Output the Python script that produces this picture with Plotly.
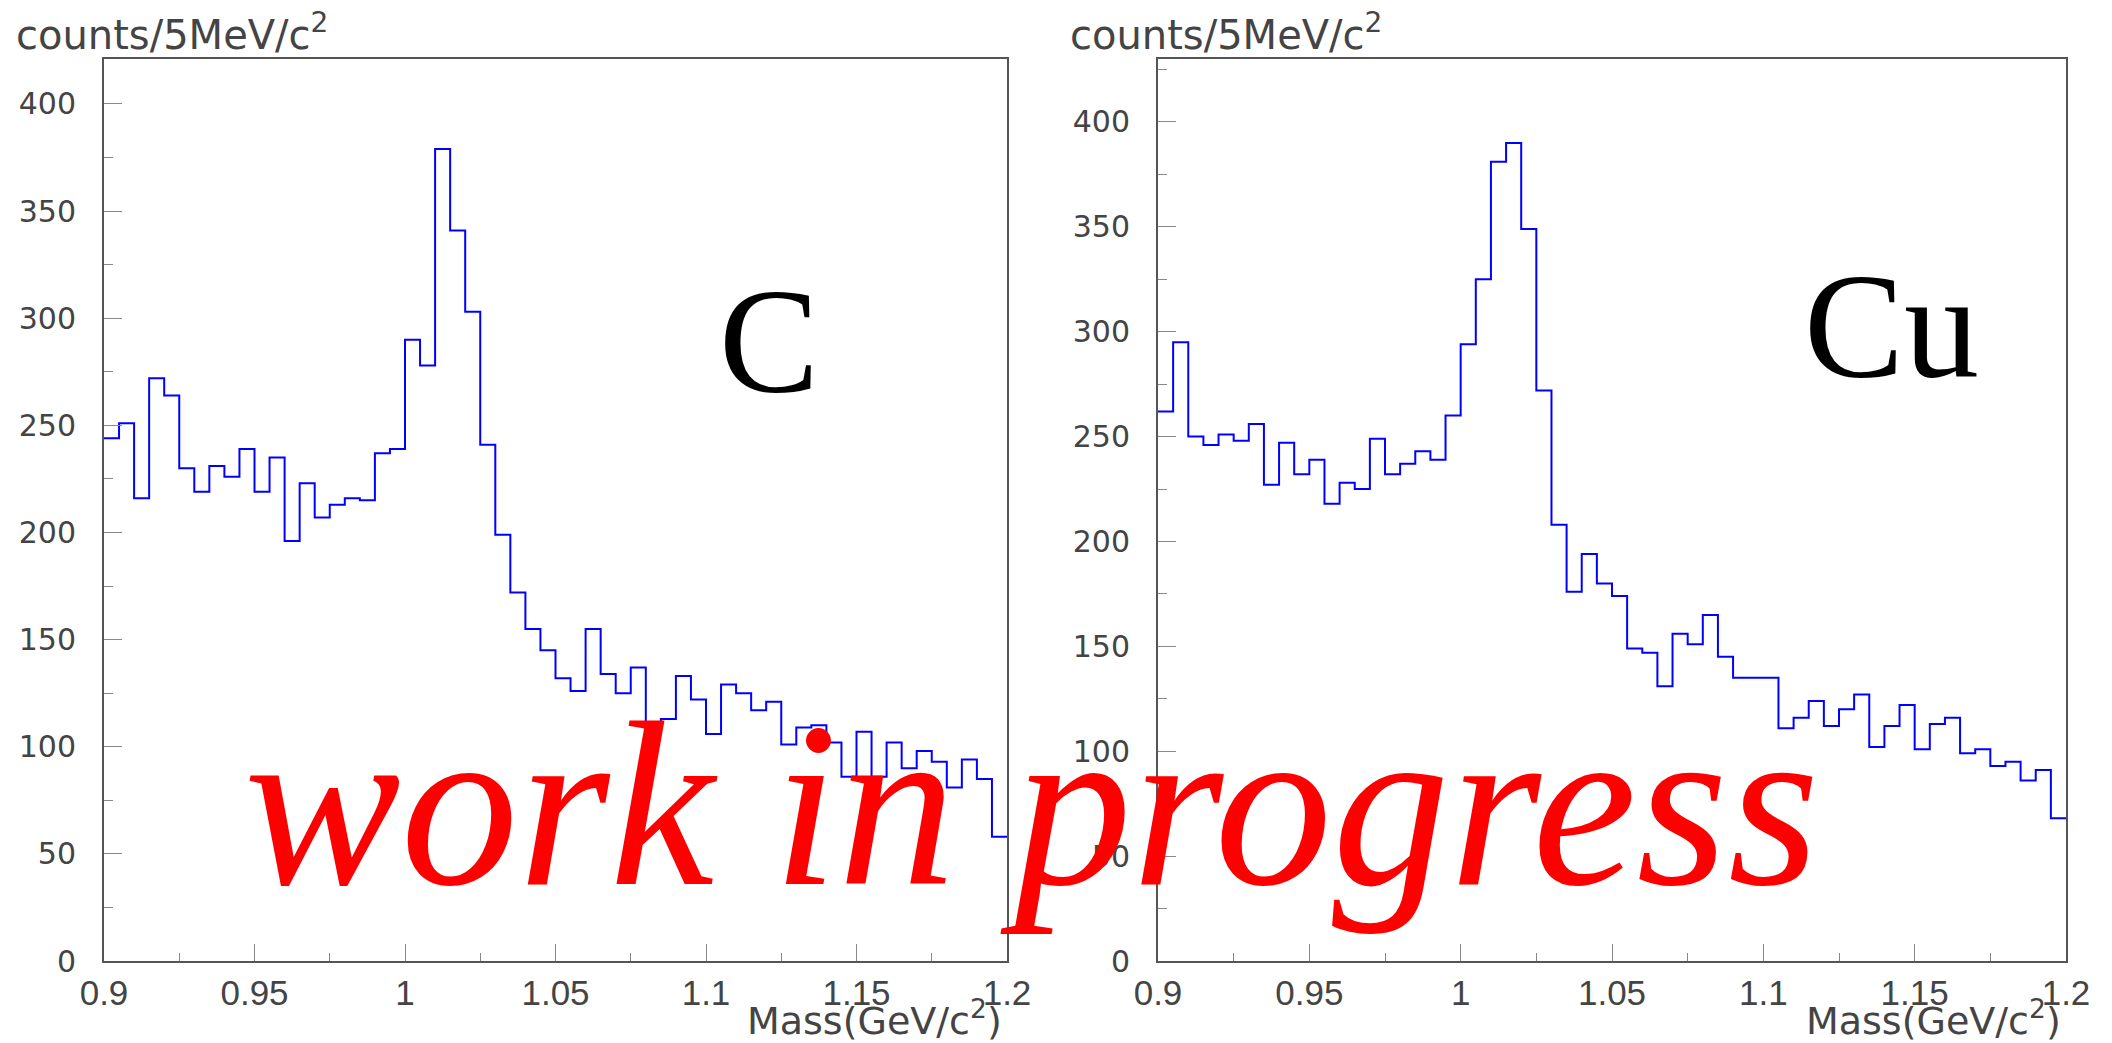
import plotly.graph_objects as go

# ---- data (counts per 5 MeV/c^2 bin, 0.9 - 1.2 GeV/c^2, 60 bins) ----
bin_lo = 0.9
bin_w = 0.005
C_counts = [244, 251, 216, 272, 264, 230, 219, 231, 226, 239,
            219, 235, 196, 223, 207, 213, 216, 215, 237, 239,
            290, 278, 379, 341, 303, 241, 199, 172, 155, 145,
            132, 126, 155, 134, 125, 137, 111, 113, 133, 122,
            106, 129, 125, 117, 121, 101, 109, 110, 102, 86,
            107, 86, 102, 90, 98, 93, 81, 94, 85, 58]
Cu_counts = [262, 295, 250, 246, 251, 248, 256, 227, 247, 232,
             239, 218, 228, 225, 249, 232, 237, 243, 239, 260,
             294, 325, 381, 390, 349, 272, 208, 176, 194, 180,
             174, 149, 147, 131, 156, 151, 165, 145, 135, 135,
             135, 111, 116, 124, 112, 120, 127, 102, 112, 122,
             101, 113, 116, 99, 101, 93, 95, 86, 91, 68]
x_tick_vals = [0.9, 0.95, 1.0, 1.05, 1.1, 1.15, 1.2]
x_tick_text = ["0.9", "0.95", "1", "1.05", "1.1", "1.15", "1.2"]
y_tick_vals = [0, 50, 100, 150, 200, 250, 300, 350, 400]
y_tick_text = ["0", "50", "100", "150", "200", "250", "300", "350", "400"]
panel_labels = ["C", "Cu"]
y_title = "counts/5MeV/c<sup>2</sup>"
x_title = "Mass(GeV/c<sup>2</sup>)"
watermark = "work in progress"


def step_xy(counts):
    xs = [bin_lo + i * bin_w for i in range(len(counts) + 1)]
    ys = list(counts) + [counts[-1]]
    return xs, ys


W, H = 2112, 1043
dom_left = [104 / W, 1007 / W]
dom_right = [1158 / W, 2066 / W]
dom_y = [82 / H, 984 / H]

fig = go.Figure()
for counts, xa, ya in [(C_counts, "x", "y"), (Cu_counts, "x2", "y2")]:
    xs, ys = step_xy(counts)
    fig.add_trace(go.Scatter(x=xs, y=ys, mode="lines", line_shape="hv",
                             line=dict(color="#0000ff", width=2),
                             xaxis=xa, yaxis=ya, showlegend=False,
                             hoverinfo="skip"))

axis_col = "#555555"
xcommon = dict(range=[0.9, 1.2], showgrid=False, zeroline=False,
               automargin=False,
               showline=True, mirror=True, linecolor=axis_col, linewidth=2,
               ticks="inside", ticklen=17, tickwidth=1, tickcolor="#888888",
               tickvals=x_tick_vals, ticktext=x_tick_text,
               tickfont=dict(family="Liberation Sans", size=35, color="#444444"),
               minor=dict(dtick=0.025, tick0=0.9, ticks="inside", ticklen=8,
                          tickcolor="#888888", tickwidth=1, showgrid=False),
               ticklabelstandoff=0)
ycommon = dict(showgrid=False, zeroline=False, automargin=False,
               showline=True, mirror=True, linecolor=axis_col, linewidth=2,
               ticks="inside", ticklen=18, tickwidth=1, tickcolor="#888888",
               tickvals=y_tick_vals, ticktext=y_tick_text,
               tickfont=dict(family="DejaVu Sans", size=30, color="#444444"),
               minor=dict(dtick=25, tick0=0, ticks="inside", ticklen=9,
                          tickcolor="#888888", tickwidth=1, showgrid=False),
               ticklabelstandoff=20)

fig.update_layout(
    width=W, height=H, autosize=False,
    margin=dict(l=0, r=0, t=0, b=0, pad=0),
    paper_bgcolor="white", plot_bgcolor="white",
    xaxis=dict(domain=dom_left, anchor="y", **xcommon),
    yaxis=dict(domain=dom_y, anchor="x", range=[0, 421], **ycommon),
    xaxis2=dict(domain=dom_right, anchor="y2", **xcommon),
    yaxis2=dict(domain=dom_y, anchor="x2", range=[0, 430], **ycommon),
)

ann = []
title_font = dict(family="DejaVu Sans", size=40, color="#444444")
mass_font = dict(family="DejaVu Sans", size=38, color="#444444")
for left in (dom_left[0], dom_right[0]):
    ann.append(dict(text=y_title, xref="paper", yref="paper",
                    x=left - 90 / W, y=(H - 32) / H, xanchor="left",
                    yanchor="middle", showarrow=False, font=title_font))
for right in (dom_left[1], dom_right[1]):
    ann.append(dict(text=x_title, xref="paper", yref="paper",
                    x=right - 3 / W, y=(H - 1018) / H, xanchor="right",
                    yanchor="middle", showarrow=False, font=mass_font))
label_pos = [(769, 341), (1891, 326)]
for lab, (px, py) in zip(panel_labels, label_pos):
    ann.append(dict(text=lab, xref="paper", yref="paper",
                    x=px / W, y=(H - py) / H, xanchor="center",
                    yanchor="middle", showarrow=False,
                    font=dict(family="Liberation Serif", size=150,
                              color="black")))
ann.append(dict(text=watermark, xref="paper", yref="paper",
                x=1031 / W, y=(H - 805) / H, xanchor="center",
                yanchor="middle", showarrow=False,
                font=dict(family="Liberation Serif", size=235, color="#ff0000",
                          style="italic")))
fig.update_layout(annotations=ann)

fig.write_html("out.html")
